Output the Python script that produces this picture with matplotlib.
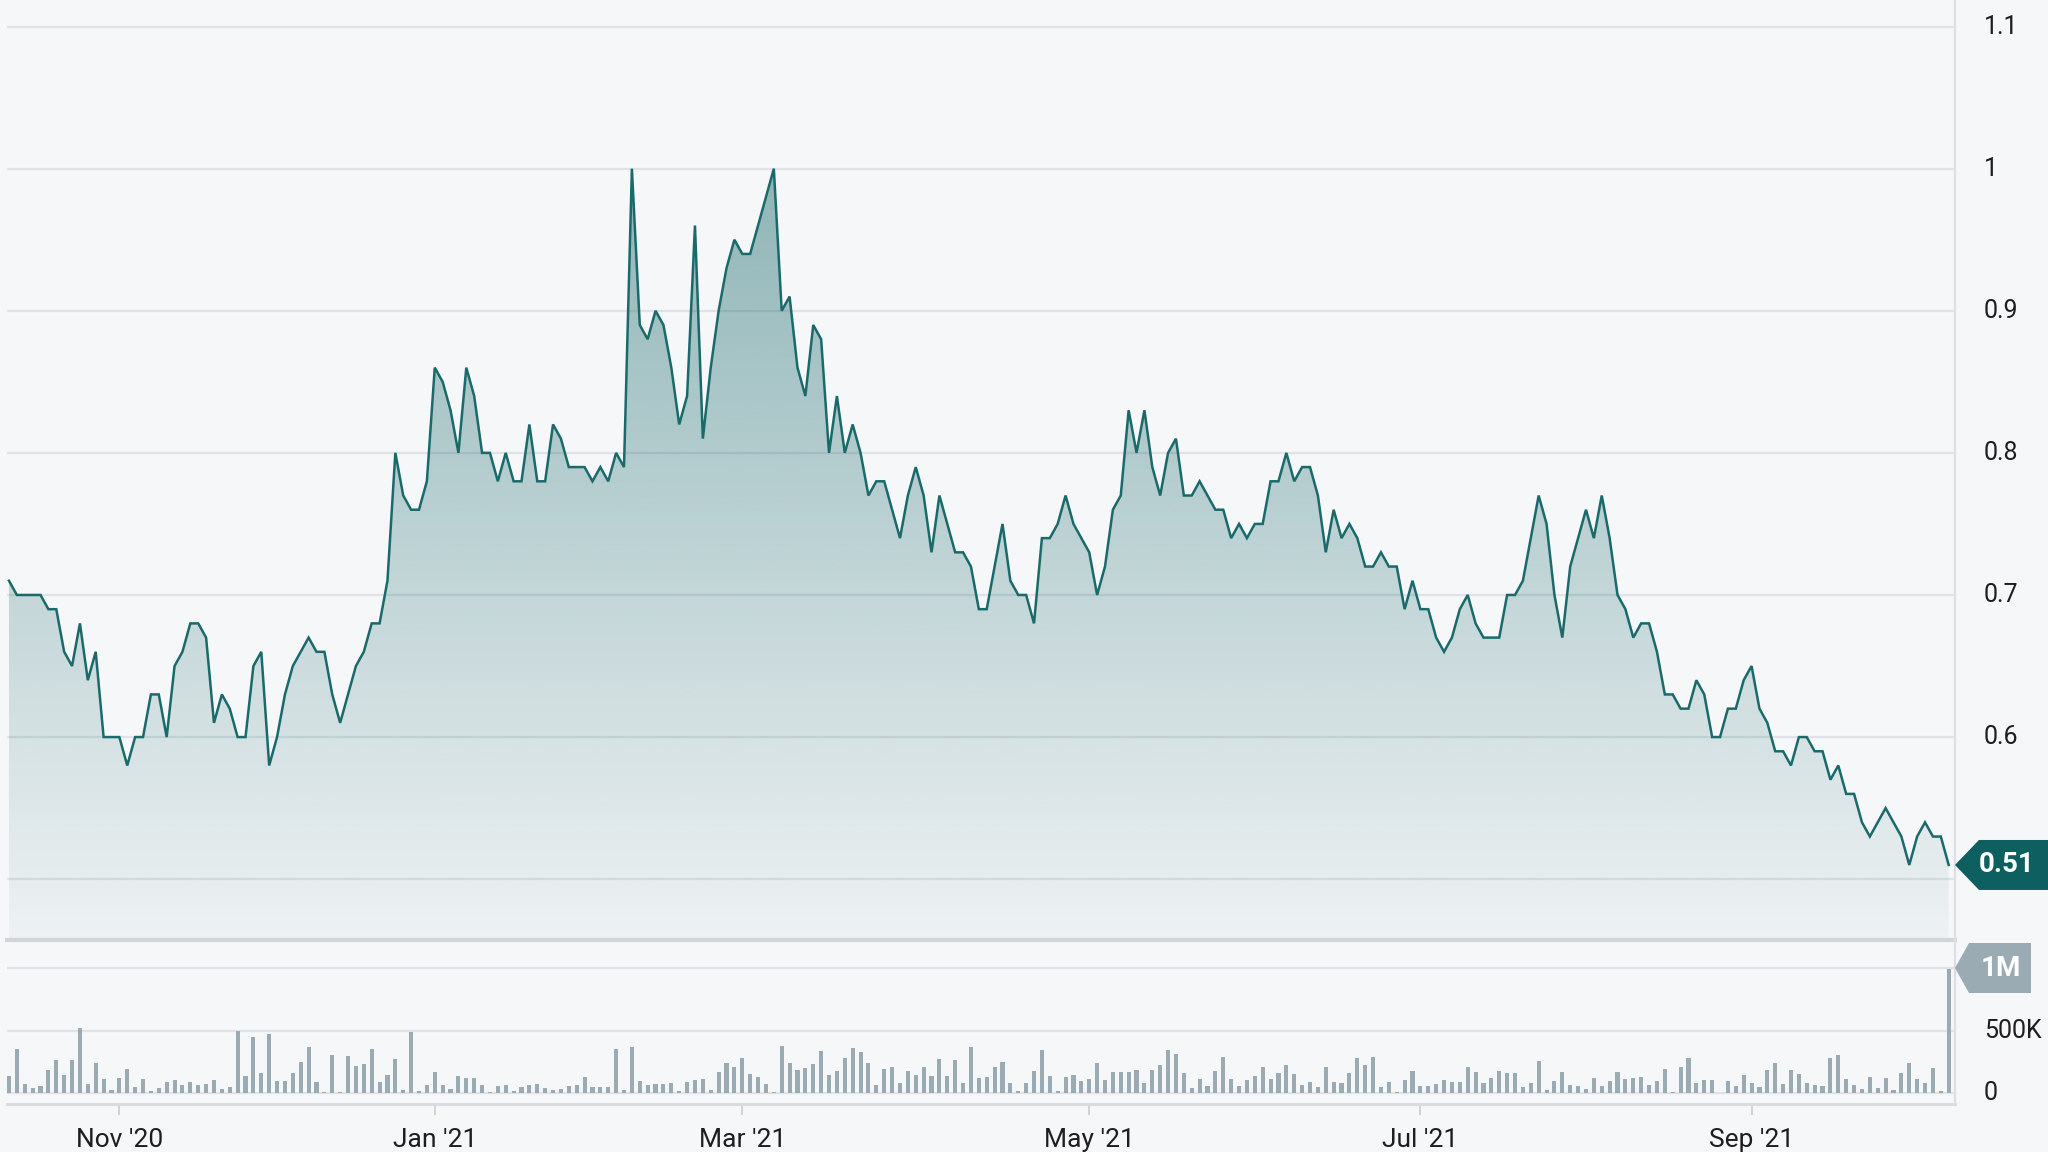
import matplotlib
matplotlib.use("Agg")
import matplotlib.pyplot as plt
import numpy as np
from matplotlib.patches import Polygon
from matplotlib.transforms import IdentityTransform

plt.rcParams['font.family'] = ['Roboto', 'DejaVu Sans']

# ---------------- data ----------------
price = [
    0.71, 0.70, 0.70, 0.70, 0.70, 0.69, 0.69, 0.66, 0.65, 0.68,
    0.64, 0.66, 0.60, 0.60, 0.60, 0.58, 0.60, 0.60, 0.63, 0.63,
    0.60, 0.65, 0.66, 0.68, 0.68, 0.67, 0.61, 0.63, 0.62, 0.60,
    0.60, 0.65, 0.66, 0.58, 0.60, 0.63, 0.65, 0.66, 0.67, 0.66,
    0.66, 0.63, 0.61, 0.63, 0.65, 0.66, 0.68, 0.68, 0.71, 0.80,
    0.77, 0.76, 0.76, 0.78, 0.86, 0.85, 0.83, 0.80, 0.86, 0.84,
    0.80, 0.80, 0.78, 0.80, 0.78, 0.78, 0.82, 0.78, 0.78, 0.82,
    0.81, 0.79, 0.79, 0.79, 0.78, 0.79, 0.78, 0.80, 0.79, 1.00,
    0.89, 0.88, 0.90, 0.89, 0.86, 0.82, 0.84, 0.96, 0.81, 0.86,
    0.90, 0.93, 0.95, 0.94, 0.94, 0.96, 0.98, 1.00, 0.90, 0.91,
    0.86, 0.84, 0.89, 0.88, 0.80, 0.84, 0.80, 0.82, 0.80, 0.77,
    0.78, 0.78, 0.76, 0.74, 0.77, 0.79, 0.77, 0.73, 0.77, 0.75,
    0.73, 0.73, 0.72, 0.69, 0.69, 0.72, 0.75, 0.71, 0.70, 0.70,
    0.68, 0.74, 0.74, 0.75, 0.77, 0.75, 0.74, 0.73, 0.70, 0.72,
    0.76, 0.77, 0.83, 0.80, 0.83, 0.79, 0.77, 0.80, 0.81, 0.77,
    0.77, 0.78, 0.77, 0.76, 0.76, 0.74, 0.75, 0.74, 0.75, 0.75,
    0.78, 0.78, 0.80, 0.78, 0.79, 0.79, 0.77, 0.73, 0.76, 0.74,
    0.75, 0.74, 0.72, 0.72, 0.73, 0.72, 0.72, 0.69, 0.71, 0.69,
    0.69, 0.67, 0.66, 0.67, 0.69, 0.70, 0.68, 0.67, 0.67, 0.67,
    0.70, 0.70, 0.71, 0.74, 0.77, 0.75, 0.70, 0.67, 0.72, 0.74,
    0.76, 0.74, 0.77, 0.74, 0.70, 0.69, 0.67, 0.68, 0.68, 0.66,
    0.63, 0.63, 0.62, 0.62, 0.64, 0.63, 0.60, 0.60, 0.62, 0.62,
    0.64, 0.65, 0.62, 0.61, 0.59, 0.59, 0.58, 0.60, 0.60, 0.59,
    0.59, 0.57, 0.58, 0.56, 0.56, 0.54, 0.53, 0.54, 0.55, 0.54,
    0.53, 0.51, 0.53, 0.54, 0.53, 0.53, 0.51,
]

volume_k = [
    137, 352, 74, 39, 58, 184, 263, 142, 263, 523,
    74, 237, 116, 21, 118, 189, 50, 116, 18, 39,
    92, 105, 63, 87, 66, 74, 105, 34, 50, 494,
    134, 452, 163, 473, 97, 95, 158, 252, 368, 87,
    5, 308, 5, 300, 218, 231, 352, 89, 147, 276,
    21, 486, 13, 66, 171, 68, 29, 139, 118, 118,
    66, 8, 53, 68, 16, 45, 68, 71, 39, 21,
    29, 60, 68, 126, 47, 47, 47, 355, 24, 371,
    100, 68, 74, 74, 84, 18, 89, 108, 110, 26,
    166, 237, 210, 279, 150, 129, 71, 5, 373, 239,
    184, 197, 231, 337, 145, 174, 279, 363, 331, 239,
    68, 195, 208, 84, 174, 147, 210, 137, 271, 134,
    263, 84, 368, 121, 126, 208, 247, 79, 16,
    84, 179, 342, 137, 18, 126, 142, 95, 110, 242,
    105, 171, 171, 171, 184, 84, 184, 221, 342, 310,
    163, 39, 110, 58, 179, 287, 116, 58, 105, 137,
    205, 110, 158, 224, 153, 63, 92, 47, 210, 92,
    79, 163, 284, 221, 289, 47, 89, 11, 103, 176,
    53, 58, 74, 105, 92, 92, 210, 168, 79, 121,
    174, 163, 163, 50, 79, 258, 21, 95, 166, 68,
    53, 32, 118, 53, 95, 168, 116, 121, 126, 63,
    97, 195, 8, 210, 284, 79, 103, 105, 0, 95,
    60, 145, 84, 47, 184, 237, 76, 184, 153, 79,
    68, 58, 279, 303, 116, 66, 32, 126, 39, 124,
    26, 163, 237, 110, 84, 200, 15, 990,
]

date_tick_pos = [14, 54, 93, 137, 179, 221]
date_tick_labels = ["Nov '20", "Jan '21", "Mar '21", "May '21", "Jul '21", "Sep '21"]
price_grid = [0.5, 0.6, 0.7, 0.8, 0.9, 1.0, 1.1]
price_ticks = [0.6, 0.7, 0.8, 0.9, 1.0, 1.1]
price_tick_labels = ["0.6", "0.7", "0.8", "0.9", "1", "1.1"]
vol_ticks = [0, 500000]
vol_tick_labels = ["0", "500K"]
last_price_label = "0.51"
max_vol_label = "1M"

# ---------------- style ----------------
W, H = 2048, 1152
BG = '#f6f7f9'
LINE = '#1b6a6b'
GRID = '#dfe2e6'
VOLC = '#9aabb3'
BADGE = '#0e5f60'
TXT = '#1e1e1e'

fig = plt.figure(figsize=(W / 100, H / 100), dpi=100, facecolor=BG)

x0, x1 = 7, 1955
ax = fig.add_axes([x0 / W, 1 - 938 / H, (x1 - x0) / W, 938 / H])
axv = fig.add_axes([x0 / W, 1 - 1104 / H, (x1 - x0) / W, (1104 - 944) / H])

n = len(price)
x = np.arange(n)
vol = np.array(volume_k[:n] + [0] * max(0, n - len(volume_k))) * 1000.0
xlim = (-0.25, n - 1 + 0.8)

for a in (ax, axv):
    a.set_facecolor(BG)
    for s in a.spines.values():
        s.set_visible(False)
    a.set_xlim(*xlim)

# ---- price panel ----
ylo, yhi = 0.4586, 1.1187
ax.set_ylim(ylo, yhi)
for t in price_grid:
    ax.axhline(t, color=GRID, lw=1.6, zorder=0)

# gradient fill
verts = [(x[0], ylo)] + list(zip(x, price)) + [(x[-1], ylo)]
poly = Polygon(verts, closed=True, facecolor='none', edgecolor='none')
ax.add_patch(poly)
ny = 400
ys = np.linspace(yhi, ylo, ny)
alpha = 0.04 + (ys - ylo) / (1.0 - ylo) * 0.43
rgb = np.array(matplotlib.colors.to_rgb(LINE))
img = np.zeros((ny, 1, 4))
img[:, 0, :3] = rgb
img[:, 0, 3] = np.clip(alpha, 0, 1)
im = ax.imshow(img, extent=[xlim[0], xlim[1], ylo, yhi], aspect='auto',
               origin='upper', zorder=1, interpolation='bilinear')
im.set_clip_path(poly)
ax.plot(x, price, color=LINE, lw=1.8, zorder=3, solid_joinstyle='miter')
ax.set_xticks([])
ax.set_yticks([])

ytr = ax.get_yaxis_transform()
lab_x = (1984 - x0) / (x1 - x0)
for t, l in zip(price_ticks, price_tick_labels):
    ax.text(lab_x, t, l, transform=ytr, ha='left', va='center',
            fontsize=18, color=TXT, clip_on=False)

# ---- volume panel ----
vlo, vhi = -88000, 1192000
axv.set_ylim(vlo, vhi)
for t in [0, 500000, 1000000]:
    axv.axhline(t, color=GRID, lw=1.6, zorder=0)
axv.bar(x, vol, width=0.52, color=VOLC, zorder=2, linewidth=0)
axv.set_yticks([])
vtr = axv.get_yaxis_transform()
for t, l in zip(vol_ticks, vol_tick_labels):
    axv.text(lab_x, t, l, transform=vtr, ha='left', va='center',
             fontsize=18, color=TXT, clip_on=False)
axv.set_xticks(date_tick_pos)
axv.set_xticklabels(date_tick_labels, fontsize=19, color=TXT)
axv.tick_params(axis='x', length=8, width=1.2, color='#c9cdd2', pad=9)

# ---- frame lines ----
fig.add_artist(plt.Line2D([x0 / W, x1 / W], [1 - 940 / H, 1 - 940 / H],
                          transform=fig.transFigure, color='#d2d6da', lw=3))
fig.add_artist(plt.Line2D([x0 / W, x1 / W], [1 - 1104 / H, 1 - 1104 / H],
                          transform=fig.transFigure, color='#d9dce0', lw=2.2))
fig.add_artist(plt.Line2D([x1 / W, x1 / W], [1 - 1104 / H, 1.0],
                          transform=fig.transFigure, color='#dcdfe3', lw=1.6))

# ---- badges ----
fig.canvas.draw()
yc = ax.transData.transform((0, price[-1]))[1]
bx0 = ax.transAxes.transform((1, 0))[0]
b1 = Polygon([(bx0, yc), (bx0 + 24, yc + 25), (W, yc + 25), (W, yc - 25), (bx0 + 24, yc - 25)],
             closed=True, facecolor=BADGE, edgecolor='none', transform=IdentityTransform(), zorder=10)
fig.add_artist(b1)
fig.text((bx0 + 52) / W, yc / H, last_price_label, ha='center', va='center',
         fontsize=20, fontweight='bold', color='white', zorder=11)

yv = axv.transData.transform((0, 1000000))[1]
b2 = Polygon([(bx0, yv), (bx0 + 14, yv + 25), (bx0 + 76, yv + 25), (bx0 + 76, yv - 25), (bx0 + 14, yv - 25)],
             closed=True, facecolor=VOLC, edgecolor='none', transform=IdentityTransform(), zorder=10)
fig.add_artist(b2)
fig.text((bx0 + 46) / W, yv / H, max_vol_label, ha='center', va='center',
         fontsize=20, fontweight='bold', color='white', zorder=11)

fig.savefig('out.png', dpi=100, facecolor=BG)
